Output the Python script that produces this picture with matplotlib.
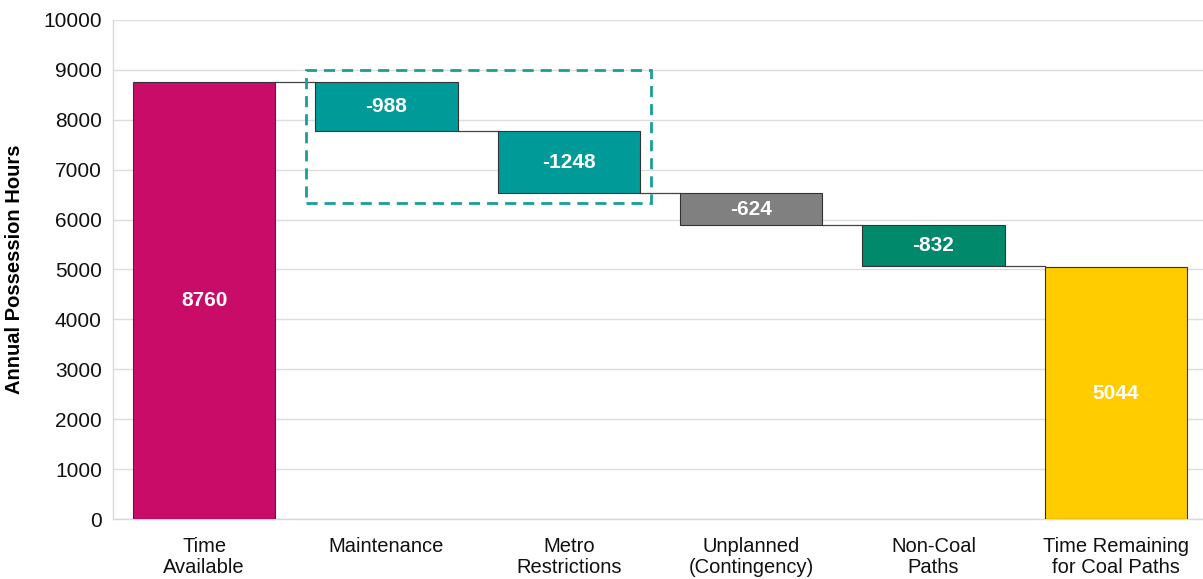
import matplotlib
matplotlib.use("Agg")
import matplotlib.pyplot as plt
from matplotlib.patches import Rectangle
from matplotlib import font_manager

categories = ["Time\nAvailable", "Maintenance", "Metro\nRestrictions",
              "Unplanned\n(Contingency)", "Non-Coal\nPaths", "Time Remaining\nfor Coal Paths"]
values = [8760, -988, -1248, -624, -832, 5044]
is_total = [True, False, False, False, False, True]
colors = ["#C80C68", "#009B98", "#009B98", "#808080", "#00896A", "#FFCC00"]
yticks = list(range(0, 10001, 1000))

names = {f.name for f in font_manager.fontManager.ttflist}
base_font = "Liberation Sans" if "Liberation Sans" in names else "DejaVu Sans"
plt.rcParams['font.family'] = [base_font, 'DejaVu Sans']

fig = plt.figure(figsize=(12.03, 5.79), dpi=100)
ax = fig.add_axes([0.0939, 0.1036, 0.9061, 0.8619])

width = 0.78
running = 0
bottoms, heights = [], []
for v, tot in zip(values, is_total):
    if tot:
        bottoms.append(0)
        heights.append(v)
        running = v
    else:
        running = running + v
        bottoms.append(running)
        heights.append(-v)

x = list(range(len(categories)))
ax.bar(x, heights, bottom=bottoms, width=width, color=colors,
       edgecolor="#333333", linewidth=0.8, zorder=3)

# connectors
for i in range(len(values) - 1):
    level = values[i] if is_total[i] else bottoms[i]
    ax.plot([i + width / 2, i + 1 - width / 2], [level, level],
            color="#444444", linewidth=0.9, zorder=2)

# labels
for i, (b, h, v) in enumerate(zip(bottoms, heights, values)):
    ax.text(i, b + h / 2, f"{v}", ha="center", va="center",
            color="white", fontsize=15, fontweight="bold", zorder=4)

# dashed highlight box
ax.add_patch(Rectangle((0.558, 6330), 2.45 - 0.558, 9000 - 6330, fill=False,
                       edgecolor="#1A9E98", linewidth=2, linestyle=(0, (4, 2.5)),
                       zorder=5))

ax.set_xlim(-0.5, 5.478)
ax.set_ylim(0, 10000)
ax.set_yticks(yticks)
ax.tick_params(axis="y", labelsize=15, length=0, pad=8, labelcolor="#111111")
ax.set_xticks(x)
ax.set_xticklabels(categories, fontsize=14.5, linespacing=1.15)
ax.tick_params(axis="x", length=0, pad=13, labelcolor="#111111")
ax.grid(axis="y", color="#DDDDDD", linewidth=1, zorder=0)
ax.set_axisbelow(True)
for s in ["top", "right"]:
    ax.spines[s].set_visible(False)
for s in ["left", "bottom"]:
    ax.spines[s].set_color("#D9D9D9")
    ax.spines[s].set_linewidth(1)
ax.set_ylabel("Annual Possession Hours", fontsize=14.5, fontweight="bold", labelpad=14)

fig.savefig("out.png", dpi=100)
